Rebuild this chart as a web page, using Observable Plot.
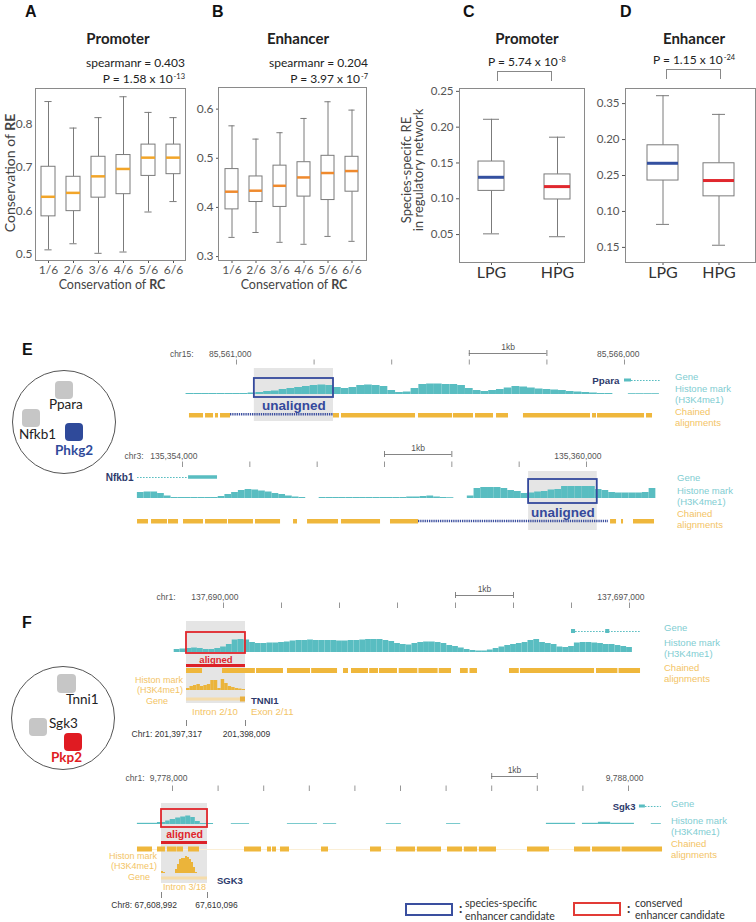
<!DOCTYPE html>
<html>
<head>
<meta charset="utf-8">
<script src="https://cdn.jsdelivr.net/npm/d3@7"></script>
<script src="https://cdn.jsdelivr.net/npm/@observablehq/plot@0.6"></script>
<style>
  html, body { margin: 0; padding: 0; background: #fff; }
  #fig { position: relative; width: 756px; height: 922px; overflow: hidden; background: #fff; }
  .sup { font-size: 0.62em; position: relative; top: -0.55em; margin-left: 1px; }
</style>
</head>
<body>
<div id="fig"></div>
<script>
// ================= DATA =================
// Panels A & B: conservation of RE vs conservation of RC
const rcCats = ["1/6", "2/6", "3/6", "4/6", "5/6", "6/6"];
const promLo  = [0.510, 0.524, 0.502, 0.505, 0.597, 0.621];
const promQ1  = [0.587, 0.599, 0.630, 0.638, 0.680, 0.684];
const promMed = [0.632, 0.641, 0.679, 0.696, 0.722, 0.722];
const promQ3  = [0.701, 0.678, 0.724, 0.728, 0.752, 0.752];
const promHi  = [0.851, 0.790, 0.814, 0.862, 0.826, 0.814];
const enhLo   = [0.339, 0.349, 0.329, 0.325, 0.341, 0.331];
const enhQ1   = [0.396, 0.411, 0.401, 0.422, 0.415, 0.432];
const enhMed  = [0.432, 0.434, 0.444, 0.461, 0.470, 0.474];
const enhQ3   = [0.478, 0.463, 0.485, 0.492, 0.505, 0.503];
const enhHi   = [0.566, 0.539, 0.552, 0.581, 0.615, 0.598];
const aTicks = [0.5, 0.6, 0.7, 0.8];
const bTicks = [0.3, 0.4, 0.5, 0.6];

// Panels C & D: species-specific RE in regulatory network
const grpCats = ["LPG", "HPG"];
const grpColors = ["#3450a0", "#e0282e"];
const cLo = [0.051, 0.047], cQ1 = [0.111, 0.099], cMed = [0.130, 0.117], cQ3 = [0.152, 0.134], cHi = [0.211, 0.186];
const dLo = [0.182, 0.153], dQ1 = [0.243, 0.221], dMed = [0.267, 0.243], dQ3 = [0.292, 0.267], dHi = [0.361, 0.335];
const cTicks = [0.05, 0.10, 0.15, 0.20, 0.25];
const dTicks = [0.15, 0.20, 0.25, 0.30, 0.35];
const dTickLabels = ["0.15", "0.10", "0.25", "0.20", "0.35"];

// Panel E, top browser view (chr15), positions in kb from 85,561,000
const e1Ticks = [0, 1, 2, 3, 4, 5];
const e1TickLabels = [{kb: 0, text: "85,561,000"}, {kb: 5, text: "85,566,000"}];
const e1Hist = [1,1,1,1,1,1,1,1,1.5,2,3,3.5,5,6,7,8,9,9.5,9,7,6,7,9,9.5,9,8,4,2,2.5,6,10,10.5,10.5,10,10,9,6,4,3,4,5,6.5,8,7.5,6.5,5.5,5,4.5,4,3,2.5,2,1.5,1,1,null,null,0.8,0.8,0.8,0.8];
const e1Chain = [[-0.606,-0.425],[-0.399,-0.296],[-0.271,-0.232],[-0.206,-0.077],[1.250,1.327],[1.353,2.307],[2.345,2.784],[2.796,3.054],[3.080,3.312],[3.351,3.505],[3.698,4.562],[4.588,4.639],[4.652,5.258],[5.284,5.361]];
const e1Unaligned = [-0.077, 1.250];
const e1Candidate = [0.23, 1.25];
const e1Exons = [[5.0, 5.09]];
const e1Introns = [[5.09, 5.46]];

// Panel E, bottom browser view (chr3), kb from 135,354,000
const e2Ticks = [0, 1, 2, 3, 4, 5, 6];
const e2TickLabels = [{kb: 0, text: "135,354,000"}, {kb: 6, text: "135,360,000"}];
const e2Hist = [6,6.5,6.5,5,2.5,1,1,1,1,1,1,1,2,4,6,8,9,8.5,7.5,6.5,5,4,2.5,1.5,1,null,null,1,1,1,1,1,1,1,1,1,1,1,1,1,1.5,1.5,2,2.5,1.5,1,0.8,null,null,2.5,10,11,11,11,10,8,7,5,5.5,6.5,7,8.5,9,12,12,12,12,12,9,8,6,5.5,5.5,5.5,5.5,6,10];
const e2Chain = [[-0.668,-0.505],[-0.460,-0.223],[-0.208,-0.059],[0.015,0.312],[0.342,0.668],[0.683,1.054],[1.084,1.456],[1.649,1.708],[1.857,2.317],[2.361,2.941],[3.089,3.505],[6.357,6.446],[6.520,6.550],[6.698,7.010]];
const e2Unaligned = [3.505, 6.327];
const e2Candidate = [5.14, 6.16];
const e2Exons = [[0.09, 0.52]];
const e2Introns = [[-0.668, 0.09]];

// Panel F, top browser view (chr1), kb from 137,690,000
const f1Ticks = [0, 1, 2, 3, 4, 5, 6, 7];
const f1TickLabels = [{kb: 0, text: "137,690,000"}, {kb: 7, text: "137,697,000"}];
const f1Hist = [3,3.5,4,4.5,4,3,3,4,5.5,8,12.5,13,12.5,10,9,9,9.5,9.5,10,10.5,11.5,12,12,12.5,12,12,12,12,11.5,11.5,12,12,12.5,13,13,13,12,11,9,8,7.5,9,10,10.5,10.5,10,9,7,6,4.5,3,2,1.5,1.5,2.5,4,5.5,7,8,9,10,12,13,10,9,8,5.5,5,6,9.5,10,10,9.5,9,8,8,7,6,5];
const f1Chain = [[-0.638,-0.362],[-0.017,0.55],[0.57,1.034],[1.103,1.50],[1.52,1.966],[2.069,2.155],[2.207,2.5],[2.52,2.672],[2.69,3.0],[3.03,3.35],[3.37,3.7],[3.72,3.931],[4.086,4.22],[4.25,4.379],[4.931,5.1],[5.12,6.397],[6.431,6.8],[6.82,7.19]];
const f1Candidate = [-0.638, 0.379];
const f1Exons = [[6.0, 6.07], [6.59, 6.66]];
const f1Introns = [[6.07, 7.19]];
// human TNNI1 inset (bp)
const f1Human = [201397317, 201398009];
const f1HumanHist = [2,4,5,6,4,5,6,10,10,2,11,7,4,3,2,1.5,1];
const f1HumanExon = [201397950, 201398009];

// Panel F, bottom browser view (chr1), kb from 9,778,000
const f2Ticks = [0, 1, 2, 3, 4, 5, 6, 7, 8, 9, 10];
const f2TickLabels = [{kb: 0, text: "9,778,000"}, {kb: 10, text: "9,788,000"}];
const f2Hist = [[-0.77,-0.33,1.2],[-0.33,-0.15,2],[-0.15,-0.05,3.5],[-0.05,0.07,5],[0.07,0.18,6.5],[0.18,0.29,7.5],[0.29,0.40,8.5],[0.40,0.50,7],[0.50,0.61,3],[0.61,0.90,1],[1.29,1.69,0.8],[2.52,3.18,0.8],[3.31,3.60,0.8],[4.69,5.02,0.8],[6.01,6.32,0.8],[8.20,8.84,1.2],[8.99,9.34,1.2],[9.34,9.61,2.2],[9.61,10.13,1.2],[10.50,10.72,0.8]];
const f2Chain = [[-0.768,-0.439],[-0.329,-0.154],[-0.11,0.10],[0.11,0.241],[0.351,0.592],[1.579,1.952],[2.083,2.171],[2.193,2.281],[2.368,2.566],[3.268,3.421],[4.342,4.583],[4.912,5.33],[5.37,5.899],[6.031,6.36],[6.40,6.69],[6.73,7.105],[7.785,8.268],[8.816,9.17],[9.21,9.83],[9.86,10.746]];
const f2Candidate = [-0.241, 0.768];
const f2Exons = [[10.24, 10.37]];
const f2Introns = [[10.37, 10.72]];
// human SGK3 inset (bp)
const f2Human = [67608992, 67610096];
const f2HumanHist = [2,1,0,0,0,0,0,4,9,14,15,15,17,16,14,11,6,1,0,0,0,0,0];

// ================= STYLE =================
const SANS = "Lato, 'Open Sans', sans-serif";
const ARIAL = "'Liberation Sans', Arial, sans-serif";
const TEAL = "#59bdc1", ORANGE = "#efb73c", NAVY = "#2d3a6b", BLUE = "#34499c", RED = "#e0262c", SHADE = "#e5e5e5";
const TEAL_LBL = "#7fcdd2", ORANGE_LBL = "#f3c466";

const fig = document.getElementById("fig");
function place(node, left, top) {
  node.style.position = "absolute";
  node.style.left = left + "px";
  node.style.top = top + "px";
  fig.appendChild(node);
  return node;
}
function label(html, x, y, o = {}) {
  const d = document.createElement("div");
  d.innerHTML = html;
  const ax = o.anchor === "middle" ? "-50%" : o.anchor === "end" ? "-100%" : "0";
  Object.assign(d.style, {
    position: "absolute", left: x + "px", top: y + "px",
    transform: `translate(${ax},-50%)` + (o.rotate ? ` rotate(${o.rotate}deg)` : ""),
    whiteSpace: "nowrap", fontSize: (o.size || 12) + "px", fontWeight: o.weight || "normal",
    color: o.color || "#333", fontFamily: o.family || SANS, lineHeight: o.lh || "1",
    textAlign: o.align || "left"
  });
  fig.appendChild(d);
  return d;
}
function box(left, top, w, h, css) {
  const d = document.createElement("div");
  Object.assign(d.style, {position: "absolute", left: left + "px", top: top + "px", width: w + "px", height: h + "px", boxSizing: "border-box"}, css);
  fig.appendChild(d);
  return d;
}

// ================= BOX PLOTS =================
function boxPanel(o) {
  const data = o.cats.map((c, i) => ({c, lo: o.lo[i], q1: o.q1[i], med: o.med[i], q3: o.q3[i], hi: o.hi[i], col: o.colors[i]}));
  const grey = "#7b7b7b";
  const marks = [
    Plot.ruleX(data, {x: "c", y1: "lo", y2: "q1", stroke: grey}),
    Plot.ruleX(data, {x: "c", y1: "q3", y2: "hi", stroke: grey}),
    Plot.tickY(data, {x: "c", y: "lo", stroke: grey, insetLeft: o.cap, insetRight: o.cap}),
    Plot.tickY(data, {x: "c", y: "hi", stroke: grey, insetLeft: o.cap, insetRight: o.cap}),
    Plot.barY(data, {x: "c", y1: "q1", y2: "q3", fill: "white", stroke: grey}),
    Plot.tickY(data, {x: "c", y: "med", stroke: "col", strokeWidth: o.medW}),
    Plot.frame({stroke: "#8a8a8a"})
  ];
  if (o.bigX) marks.push(Plot.text(data, {x: "c", text: "c", frameAnchor: "bottom", dy: 15, fontSize: 16, fontFamily: SANS, fill: "#333"}));
  const xOpts = {type: "band", domain: o.cats, range: o.xRange, paddingInner: o.pi, paddingOuter: o.po, label: null, tickSize: 3, tickPadding: 2};
  if (o.bigX) xOpts.tickFormat = () => "";
  const svg = Plot.plot({
    width: o.width, height: o.height,
    marginTop: o.mt, marginBottom: o.mb, marginLeft: o.ml, marginRight: o.mr,
    style: {background: "transparent", fontFamily: SANS, fontSize: o.fs || "12px", color: "#555", overflow: "visible"},
    x: xOpts,
    y: {domain: o.yDomain, ticks: o.yTicks, tickFormat: o.yFmt, tickSize: o.yTickSize, tickPadding: 3, label: null},
    color: {type: "identity"},
    marks
  });
  place(svg, o.left, o.top);
}

boxPanel({cats: rcCats, lo: promLo, q1: promQ1, med: promMed, q3: promQ3, hi: promHi, colors: rcCats.map(() => "#f2a529"),
  left: 0, top: 80, width: 190, height: 210, mt: 8, mb: 30, ml: 35, mr: 5, xRange: [35, 185], pi: 0.45, po: 0.225,
  cap: 3.4, medW: 2.5, yDomain: [0.4855, 0.881], yTicks: aTicks, yFmt: d3.format(".1f"), yTickSize: 0});
boxPanel({cats: rcCats, lo: enhLo, q1: enhQ1, med: enhMed, q3: enhQ3, hi: enhHi, colors: rcCats.map(() => "#ef8a2e"),
  left: 185, top: 80, width: 190, height: 210, mt: 7, mb: 30, ml: 33, mr: 9, xRange: [33, 181], pi: 0.45, po: 0.225,
  cap: 3.4, medW: 2.5, yDomain: [0.292, 0.644], yTicks: bTicks, yFmt: d3.format(".1f"), yTickSize: 2});
boxPanel({cats: grpCats, lo: cLo, q1: cQ1, med: cMed, q3: cQ3, hi: cHi, colors: grpColors, bigX: true, fs: "11.5px",
  left: 400, top: 80, width: 190, height: 212, mt: 8, mb: 30, ml: 59, mr: 6, xRange: [58, 190], pi: 0.6, po: 0.3,
  cap: 5, medW: 3, yDomain: [0.011, 0.254], yTicks: cTicks, yFmt: d3.format(".2f"), yTickSize: 3});
boxPanel({cats: grpCats, lo: dLo, q1: dQ1, med: dMed, q3: dQ3, hi: dHi, colors: grpColors, bigX: true, fs: "11.5px",
  left: 600, top: 80, width: 156, height: 212, mt: 8, mb: 30, ml: 25, mr: 1, xRange: [34.25, 147.25], pi: 0.44, po: 0.22,
  cap: 9, medW: 3, yDomain: [0.129, 0.371], yTicks: dTicks, yFmt: d => dTickLabels[dTicks.indexOf(d)], yTickSize: 3});

// ================= GENOME BROWSER VIEWS =================
function view(v) {
  const marks = [];
  marks.push(Plot.rect([v.cand], {x1: d => d[0], x2: d => d[1], y1: v.shadeY[0], y2: v.shadeY[1], fill: SHADE}));
  // ruler
  marks.push(Plot.ruleX(v.ticks, {x: d => d, y1: v.tickY[0], y2: v.tickY[1], stroke: "#8a8a8a", strokeWidth: 0.9}));
  marks.push(Plot.text(v.tickLabels, {x: "kb", y: v.labelY, text: "text", textAnchor: "end", dx: 15, fontSize: 8.5, fill: "#555", fontFamily: ARIAL}));
  marks.push(Plot.text([v.chr], {x: 0, y: v.labelY, text: d => d, textAnchor: "end", dx: v.chrDx, fontSize: 8.5, fill: "#555", fontFamily: ARIAL}));
  // scale bar 1kb
  marks.push(Plot.ruleY([v.bar], {x1: d => d[0], x2: d => d[1], y: v.barY, stroke: "#777", strokeWidth: 0.9}));
  marks.push(Plot.ruleX(v.bar, {x: d => d, y1: v.barY - 3, y2: v.barY + 3, stroke: "#777", strokeWidth: 0.9}));
  marks.push(Plot.text([v.bar], {x: d => (d[0] + d[1]) / 2, y: v.barY - 6.5, text: () => "1kb", fontSize: 8.5, fill: "#555", fontFamily: ARIAL}));
  // gene
  marks.push(Plot.ruleY(v.introns, {x1: d => d[0], x2: d => d[1], y: v.geneY, stroke: TEAL, strokeWidth: 1.2, strokeDasharray: "1.6,1.4"}));
  marks.push(Plot.rect(v.exons, {x1: d => d[0], x2: d => d[1], y1: v.geneY - v.geneH / 2, y2: v.geneY + v.geneH / 2, fill: TEAL}));
  if (v.geneName) {
    const start = Math.min(...v.exons.map(d => d[0]), ...v.introns.map(d => d[0]));
    marks.push(Plot.text([v.geneName], {x: start, y: v.geneY, text: d => d, textAnchor: "end", dx: v.geneDx, fontSize: v.geneSize, fontWeight: "bold", fill: NAVY, fontFamily: ARIAL}));
  }
  // histone mark
  let bins;
  if (v.histSegs) bins = v.histSegs.map(d => ({x1: d[0], x2: d[1], h: d[2]}));
  else bins = v.hist.map((h, i) => ({x1: v.histX0 + i * 0.1, x2: v.histX0 + (i + 1) * 0.1, h}));
  bins = bins.filter(d => d.h != null && d.h > 0);
  marks.push(Plot.rect(bins, {x1: "x1", x2: "x2", y1: d => v.histBase - d.h, y2: v.histBase, fill: TEAL}));
  // chained alignments
  if (v.chainLine) marks.push(Plot.ruleY([v.chainLine], {x1: d => d[0], x2: d => d[1], y: (v.chainY[0] + v.chainY[1]) / 2, stroke: "#fbefd6", strokeWidth: 1}));
  marks.push(Plot.rect(v.chains, {x1: d => d[0], x2: d => d[1], y1: v.chainY[0], y2: v.chainY[1], fill: ORANGE}));
  if (v.unaligned) marks.push(Plot.ruleY([v.unaligned], {x1: d => d[0], x2: d => d[1], y: v.dotY, stroke: "#3c4f9f", strokeWidth: 2.6, strokeDasharray: "1.3,0.9"}));
  if (v.redBar) marks.push(Plot.rect([v.cand], {x1: d => d[0], x2: d => d[1], y1: v.redBar[0], y2: v.redBar[1], fill: "#dc2128"}));
  // candidate box + label
  marks.push(Plot.rect([v.cand], {x1: d => d[0], x2: d => d[1], y1: v.boxY[0], y2: v.boxY[1], fill: "none", stroke: v.boxColor, strokeWidth: 1.8}));
  marks.push(Plot.text([v.candText], {x: (v.cand[0] + v.cand[1]) / 2, y: v.candTextY, text: d => d, fontSize: v.candTextSize, fontWeight: "bold", fill: v.boxColor, fontFamily: ARIAL}));
  const svg = Plot.plot({
    width: 756, height: v.height, margin: 0,
    style: {background: "transparent", overflow: "visible"},
    x: {domain: v.domain, range: v.range, axis: null},
    y: {domain: [v.top, v.top + v.height], range: [0, v.height], axis: null},
    marks
  });
  place(svg, 0, v.top);
}

view({top: 335, height: 95, domain: [0, 5], range: [236, 624], ticks: e1Ticks, tickLabels: e1TickLabels,
  chr: "chr15:", chrDx: -43, labelY: 354, tickY: [359.5, 364.5], bar: [3, 4], barY: 353,
  cand: e1Candidate, shadeY: [368, 421], boxY: [378, 397], boxColor: BLUE, candText: "unaligned", candTextY: 405, candTextSize: 13.5,
  hist: e1Hist, histX0: -0.65, histBase: 394, chains: e1Chain, chainY: [413, 417.5], unaligned: e1Unaligned, dotY: 413.8,
  exons: e1Exons, introns: e1Introns, geneY: 380, geneH: 3, geneName: "Ppara", geneDx: -5, geneSize: 9.8});

view({top: 440, height: 95, domain: [0, 6], range: [182, 586], ticks: e2Ticks, tickLabels: e2TickLabels,
  chr: "chr3:", chrDx: -39, labelY: 456, tickY: [461.5, 467], bar: [3, 4], barY: 454,
  cand: e2Candidate, shadeY: [471, 530], boxY: [479, 503], boxColor: BLUE, candText: "unaligned", candTextY: 512, candTextSize: 13.5,
  hist: e2Hist, histX0: -0.67, histBase: 498, chains: e2Chain, chainY: [519, 523.5], unaligned: e2Unaligned, dotY: 520.5,
  exons: e2Exons, introns: e2Introns, geneY: 477, geneH: 3.5, geneName: "Nfkb1", geneDx: -4, geneSize: 10});

view({top: 580, height: 130, domain: [0, 7], range: [223, 629], ticks: f1Ticks, tickLabels: f1TickLabels,
  chr: "chr1:", chrDx: -48, labelY: 597, tickY: [602.5, 608], bar: [4, 5], barY: 595,
  cand: f1Candidate, shadeY: [621, 703], boxY: [632, 653], boxColor: RED, candText: "aligned", candTextY: 659, candTextSize: 9.5,
  hist: f1Hist, histX0: -0.85, histBase: 652, chains: f1Chain, chainY: [668, 673], redBar: [664, 667],
  exons: f1Exons, introns: f1Introns, geneY: 631, geneH: 4});

view({top: 762, height: 130, domain: [0, 10], range: [172, 628], ticks: f2Ticks, tickLabels: f2TickLabels,
  chr: "chr1:", chrDx: -28, labelY: 778, tickY: [785.5, 791], bar: [7, 8], barY: 776,
  cand: f2Candidate, shadeY: [803, 883], boxY: [809, 827], boxColor: RED, candText: "aligned", candTextY: 834, candTextSize: 10.5,
  histSegs: f2Hist, histBase: 824, chains: f2Chain, chainLine: [-0.77, 10.75], chainY: [846.5, 851.5], redBar: [841, 844],
  exons: f2Exons, introns: f2Introns, geneY: 806, geneH: 3, geneName: "Sgk3", geneDx: -4, geneSize: 9.5});

// human insets
function inset(o) {
  const step = (o.domain[1] - o.domain[0]) / o.hist.length;
  const bins = o.hist.map((h, i) => ({x1: o.domain[0] + i * step, x2: o.domain[0] + (i + 1) * step, h})).filter(d => d.h > 0);
  const marks = [
    Plot.rect(bins, {x1: "x1", x2: "x2", y1: d => o.histBase - d.h, y2: o.histBase, fill: "#ebb43a"}),
    Plot.rect([o.domain], {x1: d => d[0], x2: d => d[1], y1: o.geneY - 1.5, y2: o.geneY + 1.5, fill: "#f5dcaa"}),
    Plot.ruleX(o.domain, {x: d => d, y1: o.tickY[0], y2: o.tickY[1], stroke: "#777", strokeWidth: 0.9}),
    Plot.text([o.domain[0]], {x: d => d, y: o.labelY, text: () => o.leftLabel, textAnchor: "end", dx: 15.5, fontSize: 8.5, fill: "#333", fontFamily: ARIAL}),
    Plot.text([o.domain[1]], {x: d => d, y: o.labelY, text: () => o.rightLabel, dx: o.rightDx, fontSize: 8.5, fill: "#333", fontFamily: ARIAL})
  ];
  if (o.exon) marks.push(Plot.rect([o.exon], {x1: d => d[0], x2: d => d[1], y1: o.geneY - 2.5, y2: o.geneY + 2.5, fill: "#e9b03e"}));
  const svg = Plot.plot({
    width: 756, height: o.height, margin: 0,
    style: {background: "transparent", overflow: "visible"},
    x: {domain: o.domain, range: o.range, axis: null},
    y: {domain: [o.top, o.top + o.height], range: [0, o.height], axis: null},
    marks
  });
  place(svg, 0, o.top);
}
inset({top: 668, height: 75, domain: f1Human, range: [186, 245], hist: f1HumanHist, histBase: 690, geneY: 699, exon: f1HumanExon,
  tickY: [720, 726], labelY: 734, leftLabel: "Chr1: 201,397,317", rightLabel: "201,398,009", rightDx: 1});
inset({top: 850, height: 65, domain: f2Human, range: [161, 207], hist: f2HumanHist, histBase: 873, geneY: 878,
  tickY: [892, 898], labelY: 905, leftLabel: "Chr8: 67,608,992", rightLabel: "67,610,096", rightDx: 9});

// ================= TEXT / ANNOTATIONS =================
const L = (t, x, y, o) => label(t, x, y, o);
// panel letters
L("A", 25, 12, {size: 16, weight: "bold", family: ARIAL, color: "#111"});
L("B", 212, 12, {size: 16, weight: "bold", family: ARIAL, color: "#111"});
L("C", 463, 12, {size: 16, weight: "bold", family: ARIAL, color: "#111"});
L("D", 620, 12, {size: 16, weight: "bold", family: ARIAL, color: "#111"});
L("E", 22, 350, {size: 16, weight: "bold", family: ARIAL, color: "#111"});
L("F", 22, 623, {size: 16, weight: "bold", family: ARIAL, color: "#111"});
// titles
L("Promoter", 118, 38, {anchor: "middle", size: 15, weight: "bold", color: "#222"});
L("Enhancer", 298, 38, {anchor: "middle", size: 15, weight: "bold", color: "#222"});
L("Promoter", 527, 38, {anchor: "middle", size: 15, weight: "bold", color: "#222"});
L("Enhancer", 694, 38, {anchor: "middle", size: 15, weight: "bold", color: "#222"});
L("spearmanr = 0.403", 185, 63, {anchor: "end", size: 12, color: "#222"});
L('P = 1.58 x 10<span class="sup">-13</span>', 185, 79, {anchor: "end", size: 12, color: "#222"});
L("spearmanr = 0.204", 368, 63, {anchor: "end", size: 12, color: "#222"});
L('P = 3.97 x 10<span class="sup">-7</span>', 368, 79, {anchor: "end", size: 12, color: "#222"});
L('P = 5.74 x 10<span class="sup">-8</span>', 527, 62, {anchor: "middle", size: 12, color: "#222"});
L('P = 1.15 x 10<span class="sup">-24</span>', 694, 60, {anchor: "middle", size: 12, color: "#222"});
// brackets
box(497, 71, 55, 10, {borderTop: "1px solid #888", borderLeft: "1px solid #888", borderRight: "1px solid #888"});
box(666, 69, 55, 10, {borderTop: "1px solid #888", borderLeft: "1px solid #888", borderRight: "1px solid #888"});
// axis titles
L("Conservation of <b>RC</b>", 112, 285, {anchor: "middle", size: 12.5, color: "#444", lh: "0.9"});
L("Conservation of <b>RC</b>", 294, 285, {anchor: "middle", size: 12.5, color: "#444", lh: "0.9"});
L("Conservation of <b>RE</b>", 10, 173, {anchor: "middle", size: 14, color: "#444", rotate: -90});
L("Species-specifc RE<br>in regulatory network", 412, 170, {anchor: "middle", size: 13, color: "#444", rotate: -90, lh: "12px", align: "center"});

// network circles
function circle(cx, cy, r) { box(cx - r, cy - r, 2 * r, 2 * r, {border: "1px solid #555", borderRadius: "50%"}); }
function sq(left, top, s, col) { box(left, top, s, s, {background: col, borderRadius: "4px"}); }
circle(63.5, 422, 52);
sq(55, 381, 18, "#c6c6c6"); sq(22, 409, 18, "#c6c6c6"); sq(65, 423, 18, "#2f4a9a");
L("Ppara", 49, 405, {size: 13.5, color: "#222"});
L("Nfkb1", 19, 435, {size: 13.5, color: "#222"});
L("Phkg2", 55, 451, {size: 13.5, weight: "bold", color: "#2f4a9a"});
circle(63, 718, 52);
sq(57, 674, 19, "#c6c6c6"); sq(29, 718, 18, "#c6c6c6"); sq(64, 733, 18, "#e01b22");
L("Tnni1", 66, 700, {size: 13.5, color: "#222"});
L("Sgk3", 49, 724, {size: 13.5, color: "#222"});
L("Pkp2", 51, 758, {size: 13.5, weight: "bold", color: "#e01b22"});

// track labels on the right
function trackLabels(x, yg, yh, yc) {
  const o = {size: 9.5, family: ARIAL};
  L("Gene", x, yg, {...o, color: TEAL_LBL});
  L("Histone mark", x, yh, {...o, color: TEAL_LBL});
  L("(H3K4me1)", x, yh + 11, {...o, color: TEAL_LBL});
  L("Chained", x, yc, {...o, color: ORANGE_LBL});
  L("alignments", x, yc + 11, {...o, color: ORANGE_LBL});
}
trackLabels(675, 377, 389, 412);
trackLabels(677, 478, 491, 513.5);
trackLabels(664, 628, 643, 668);
trackLabels(671, 804, 821, 843.5);

// inset labels
const io = {size: 9, family: ARIAL, color: ORANGE_LBL};
L("Histon mark", 183, 679.5, {...io, anchor: "end"});
L("(H3K4me1)", 183, 690, {...io, anchor: "end"});
L("Gene", 168, 701, {...io, anchor: "end"});
L("TNNI1", 251, 701, {size: 9.5, weight: "bold", family: ARIAL, color: NAVY});
L("Intron 2/10", 192, 712, {...io, size: 9.6});
L("Exon 2/11", 251, 712, {...io, size: 9.6});
L("Histon mark", 157, 855.5, {...io, anchor: "end"});
L("(H3K4me1)", 157, 866, {...io, anchor: "end"});
L("Gene", 150, 877, {...io, anchor: "end"});
L("SGK3", 217, 881, {size: 9.5, weight: "bold", family: ARIAL, color: NAVY});
L("Intron 3/18", 163, 887, io);

// legend
box(405, 903, 48, 13, {border: "2px solid #3a4f9f"});
L(":", 459, 908, {size: 13, color: "#333", weight: "bold"});
L("species-specific", 465, 903, {size: 10.5, color: "#333"});
L("enhancer candidate", 465, 915.5, {size: 10.5, color: "#333"});
box(573, 902, 48, 14, {border: "2px solid #e23b36"});
L(":", 627, 908, {size: 13, color: "#333", weight: "bold"});
L("conserved", 635, 902.5, {size: 10.5, color: "#333"});
L("enhancer candidate", 635, 915, {size: 10.5, color: "#333"});
</script>
</body>
</html>
